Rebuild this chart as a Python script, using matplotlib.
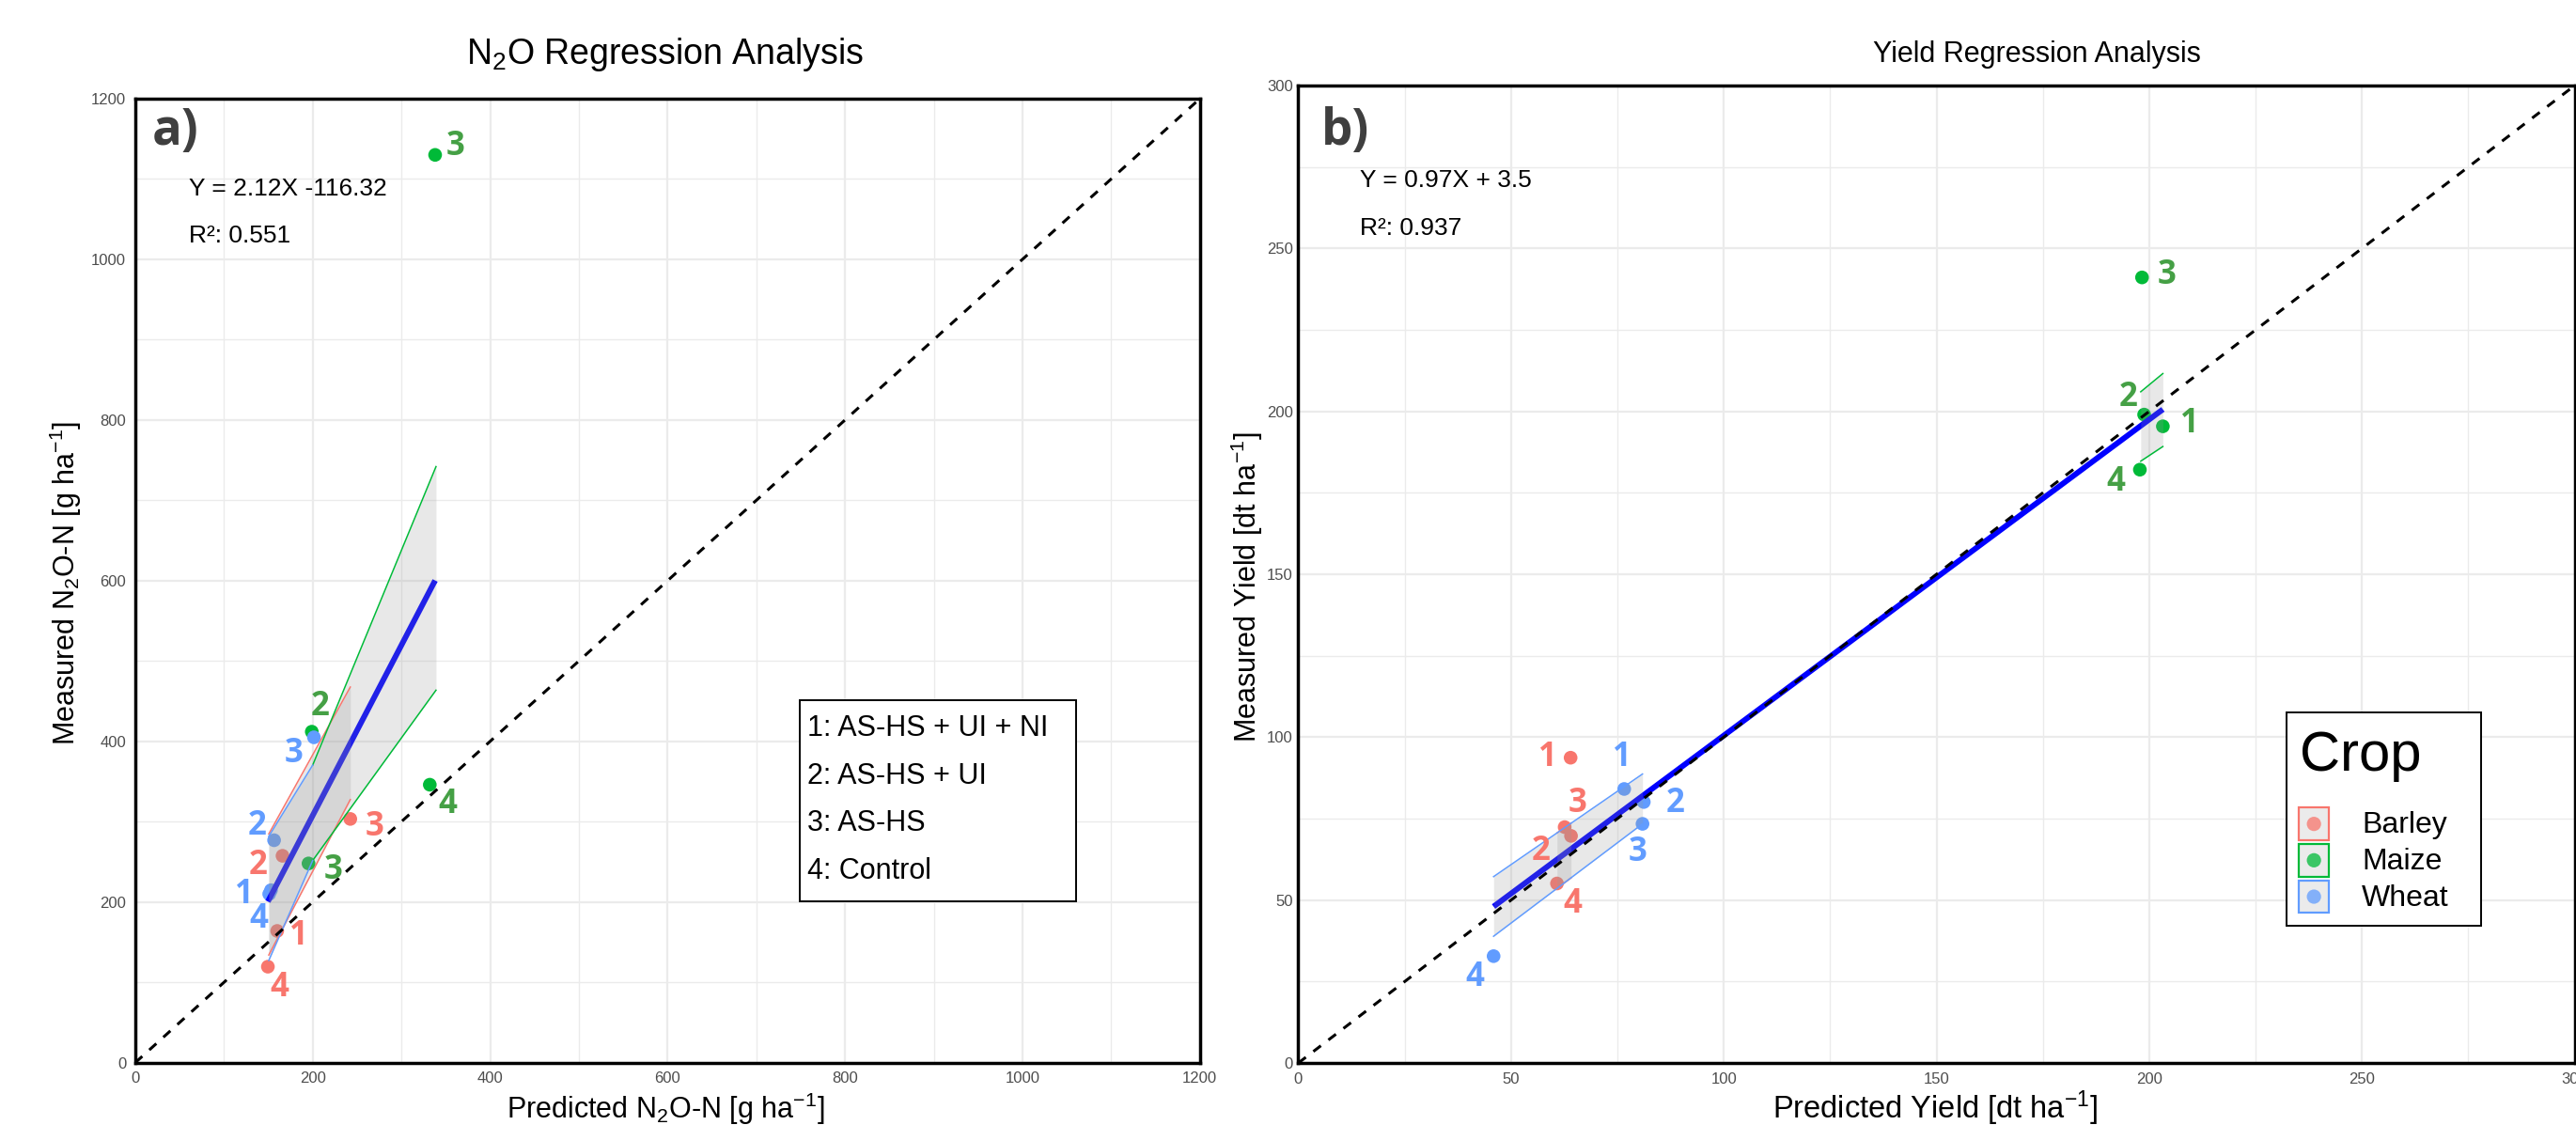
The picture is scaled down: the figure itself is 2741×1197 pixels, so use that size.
import numpy as np
import matplotlib
matplotlib.use('Agg')
import matplotlib.pyplot as plt
from matplotlib.patches import Rectangle

plt.rcParams['font.family'] = ['Liberation Sans', 'DejaVu Sans']
plt.rcParams['mathtext.fontset'] = 'custom'
plt.rcParams['mathtext.rm'] = 'Liberation Sans'
plt.rcParams['mathtext.it'] = 'Liberation Sans:italic'
plt.rcParams['mathtext.bf'] = 'Liberation Sans:bold'

crops = ['Barley', 'Maize', 'Wheat']
crop_colors = {'Barley': '#F8766D', 'Maize': '#00BA38', 'Wheat': '#619CFF'}
label_colors = {'Barley': '#F8766D', 'Maize': '#45A045', 'Wheat': '#619CFF'}

treatments = ['1: AS-HS + UI + NI', '2: AS-HS + UI', '3: AS-HS', '4: Control']

# ---- N2O panel (predicted, measured, label)
n2o_pred_barley = [160, 166, 242.4, 149.5]
n2o_meas_barley = [164, 257.5, 303.4, 119.5]
n2o_lab_barley = ['1', '2', '3', '4']
n2o_pred_maize = [338, 199, 195.3, 332]
n2o_meas_maize = [1130, 412, 248, 346]
n2o_lab_maize = ['3', '2', '3', '4']
n2o_pred_wheat = [153, 156.5, 201.4, 151]
n2o_meas_wheat = [214.7, 276.9, 405, 210]
n2o_lab_wheat = ['1', '2', '3', '4']

# confidence ribbons: x range, lower edge, upper edge
n2o_band_x = {'Barley': [150.5, 242.4], 'Maize': [200, 339], 'Wheat': [150.5, 200]}
n2o_band_lo = {'Barley': [134, 327.5], 'Maize': [251.7, 463.7], 'Wheat': [127.2, 251.7]}
n2o_band_hi = {'Barley': [284.7, 467.6], 'Maize': [370.4, 742], 'Wheat': [281.7, 370.4]}
n2o_slope, n2o_icpt = 2.12, -116.32
n2o_eq = 'Y = 2.12X -116.32'
n2o_r2 = 'R\u00b2: 0.551'

# ---- Yield panel
yld_pred_barley = [64, 64.1, 62.6, 60.8]
yld_meas_barley = [93.7, 69.7, 72.4, 55.1]
yld_lab_barley = ['1', '2', '3', '4']
yld_pred_maize = [203.2, 198.8, 198.3, 197.8]
yld_meas_maize = [195.4, 199, 241.1, 182.1]
yld_lab_maize = ['1', '2', '3', '4']
yld_pred_wheat = [76.6, 81.2, 80.9, 45.9]
yld_meas_wheat = [84.1, 80.1, 73.4, 32.8]
yld_lab_wheat = ['1', '2', '3', '4']

yld_band_x = {'Barley': [60.8, 64.1], 'Maize': [198, 203.2], 'Wheat': [45.9, 80.9]}
yld_band_lo = {'Barley': [53.6, 56.8], 'Maize': [184.7, 189.2], 'Wheat': [38.9, 73.4]}
yld_band_hi = {'Barley': [70.6, 73.6], 'Maize': [206, 211.6], 'Wheat': [57.2, 88.7]}
yld_slope, yld_icpt = 0.97, 3.5
yld_eq = 'Y = 0.97X + 3.5'
yld_r2 = 'R\u00b2: 0.937'

# label offsets in pixels (dx right, dy down)
n2o_offsets = {
    'Barley': [(23, 5), (-26, 10), (26, 9), (12, 22)],
    'Maize': [(22, -9), (9, -27), (26, 7), (19, 21)],
    'Wheat': [(-28, 5), (-18, -15), (-21, 17), (-11, 27)],
}
yld_offsets = {
    'Barley': [(-24, 0), (-32, 17), (14, -25), (17, 22)],
    'Maize': [(28, -3), (-17, -18), (26, -2), (-26, 13)],
    'Wheat': [(-2, -33), (34, 2), (-5, 30), (-20, 23)],
}


def draw_panel(ax, pts, bx, blo, bhi, slope, icpt, lim, major, minor, offsets):
    ax.set_xlim(0, lim)
    ax.set_ylim(0, lim)
    ax.set_xticks(np.arange(0, lim + 1, major))
    ax.set_yticks(np.arange(0, lim + 1, major))
    ax.set_xticks(np.arange(0, lim + 1, minor), minor=True)
    ax.set_yticks(np.arange(0, lim + 1, minor), minor=True)
    ax.grid(which='major', color='#ebebeb', lw=1.6)
    ax.grid(which='minor', color='#ebebeb', lw=1.0)
    ax.set_axisbelow(True)
    ax.tick_params(which='both', length=0)
    ax.tick_params(labelsize=12, labelcolor='#4d4d4d', pad=7)
    for s in ax.spines.values():
        s.set_linewidth(2.5)
        s.set_color('black')

    for crop in crops:
        xs, ys, labs = pts[crop]
        ax.scatter(xs, ys, s=110, color=crop_colors[crop], edgecolors='none', zorder=2)

    all_x = np.concatenate([pts[c][0] for c in crops])
    xx = np.array([all_x.min(), all_x.max()])
    ax.plot(xx, slope * xx + icpt, color='#0000ff', lw=4.3, zorder=2.5,
            solid_capstyle='butt')

    for crop in crops:
        ax.fill_between(bx[crop], blo[crop], bhi[crop], color='#999999',
                        alpha=0.22, lw=0, zorder=3)
        ax.plot(bx[crop], blo[crop], color=crop_colors[crop], lw=1.1, zorder=3.5)
        ax.plot(bx[crop], bhi[crop], color=crop_colors[crop], lw=1.1, zorder=3.5)

    ax.plot([0, lim], [0, lim], color='black', ls=(0, (3.3, 3.3)), lw=2.2, zorder=4)

    for crop in crops:
        xs, ys, labs = pts[crop]
        for x, y, t, (dx, dy) in zip(xs, ys, labs, offsets[crop]):
            ax.annotate(t, (x, y), xytext=(dx, -dy), textcoords='offset pixels',
                        ha='center', va='center', fontsize=25, fontweight='bold',
                        family='Open Sans', color=label_colors[crop], zorder=5)


fig = plt.figure(figsize=(27.41, 11.97), dpi=100)
ax1 = fig.add_axes([0.0525, 0.0554, 0.4133, 0.8569])
ax2 = fig.add_axes([0.504, 0.0551, 0.4955, 0.8689])

n2o_pts = {
    'Barley': (n2o_pred_barley, n2o_meas_barley, n2o_lab_barley),
    'Maize': (n2o_pred_maize, n2o_meas_maize, n2o_lab_maize),
    'Wheat': (n2o_pred_wheat, n2o_meas_wheat, n2o_lab_wheat),
}
yld_pts = {
    'Barley': (yld_pred_barley, yld_meas_barley, yld_lab_barley),
    'Maize': (yld_pred_maize, yld_meas_maize, yld_lab_maize),
    'Wheat': (yld_pred_wheat, yld_meas_wheat, yld_lab_wheat),
}

draw_panel(ax1, n2o_pts, n2o_band_x, n2o_band_lo, n2o_band_hi, n2o_slope, n2o_icpt,
           1200, 200, 100, n2o_offsets)
draw_panel(ax2, yld_pts, yld_band_x, yld_band_lo, yld_band_hi, yld_slope, yld_icpt,
           300, 50, 25, yld_offsets)
ax2.tick_params(axis='y', pad=4)

# panel letters and equations
ax1.text(0.016, 0.966, 'a)', transform=ax1.transAxes, fontsize=38, fontweight='bold',
         family='Open Sans', color='#3f3f3f', ha='left', va='center', zorder=6)
ax2.text(0.018, 0.953, 'b)', transform=ax2.transAxes, fontsize=38, fontweight='bold',
         family='Open Sans', color='#3f3f3f', ha='left', va='center', zorder=6)
ax1.text(0.0504, 0.906, n2o_eq, transform=ax1.transAxes, fontsize=19, va='center', zorder=6)
ax1.text(0.0504, 0.858, n2o_r2, transform=ax1.transAxes, fontsize=19, va='center', zorder=6)
ax2.text(0.0483, 0.903, yld_eq, transform=ax2.transAxes, fontsize=19, va='center', zorder=6)
ax2.text(0.0483, 0.854, yld_r2, transform=ax2.transAxes, fontsize=19, va='center', zorder=6)

# treatment key (left panel)
ax1.add_patch(Rectangle((0.624, 0.1674), 0.26, 0.2086, transform=ax1.transAxes,
                        facecolor='white', edgecolor='black', lw=1.4, zorder=6))
for i, t in enumerate(treatments):
    ax1.text(0.631, 0.3468 - i * 0.0494, t, transform=ax1.transAxes, fontsize=22,
             va='center', ha='left', zorder=7)

# crop legend (right panel)
ax2.add_patch(Rectangle((0.7746, 0.1404), 0.1521, 0.218, transform=ax2.transAxes,
                        facecolor='white', edgecolor='black', lw=1.4, zorder=6))
ax2.text(0.7844, 0.299, 'Crop', transform=ax2.transAxes, fontsize=43,
         va='baseline', ha='left', zorder=7)
for i, crop in enumerate(crops):
    y0 = 0.2279 - i * 0.0372
    ax2.add_patch(Rectangle((0.7839, y0), 0.0236, 0.0334, transform=ax2.transAxes,
                            facecolor='#ebebeb', edgecolor=crop_colors[crop], lw=1.6,
                            zorder=7))
    ax2.scatter([0.7839 + 0.0118], [y0 + 0.0167], transform=ax2.transAxes, s=120,
                color=crop_colors[crop], alpha=0.75, edgecolors='none', zorder=8,
                clip_on=False)
    ax2.text(0.8332, y0 + 0.0151, crop, transform=ax2.transAxes, fontsize=23,
             va='center', ha='left', zorder=8)

# titles and axis labels
fig.text(0.2583, 0.9515, 'N$_2$O Regression Analysis', fontsize=27, ha='center', va='center')
fig.text(0.7906, 0.9515, 'Yield Regression Analysis', fontsize=22, ha='center', va='center')
fig.text(0.2583, 0.0058, 'Predicted N$_2$O-N [g ha$^{-1}$]', fontsize=22, ha='center',
         va='baseline')
fig.text(0.7512, 0.0058, 'Predicted Yield [dt ha$^{-1}$]', fontsize=23.5, ha='center',
         va='baseline')
fig.text(0.0255, 0.482, 'Measured N$_2$O-N [g ha$^{-1}$]', fontsize=22, ha='center',
         va='center', rotation=90)
fig.text(0.4841, 0.478, 'Measured Yield [dt ha$^{-1}$]', fontsize=22, ha='center',
         va='center', rotation=90)

fig.savefig('out.png', dpi=100)
